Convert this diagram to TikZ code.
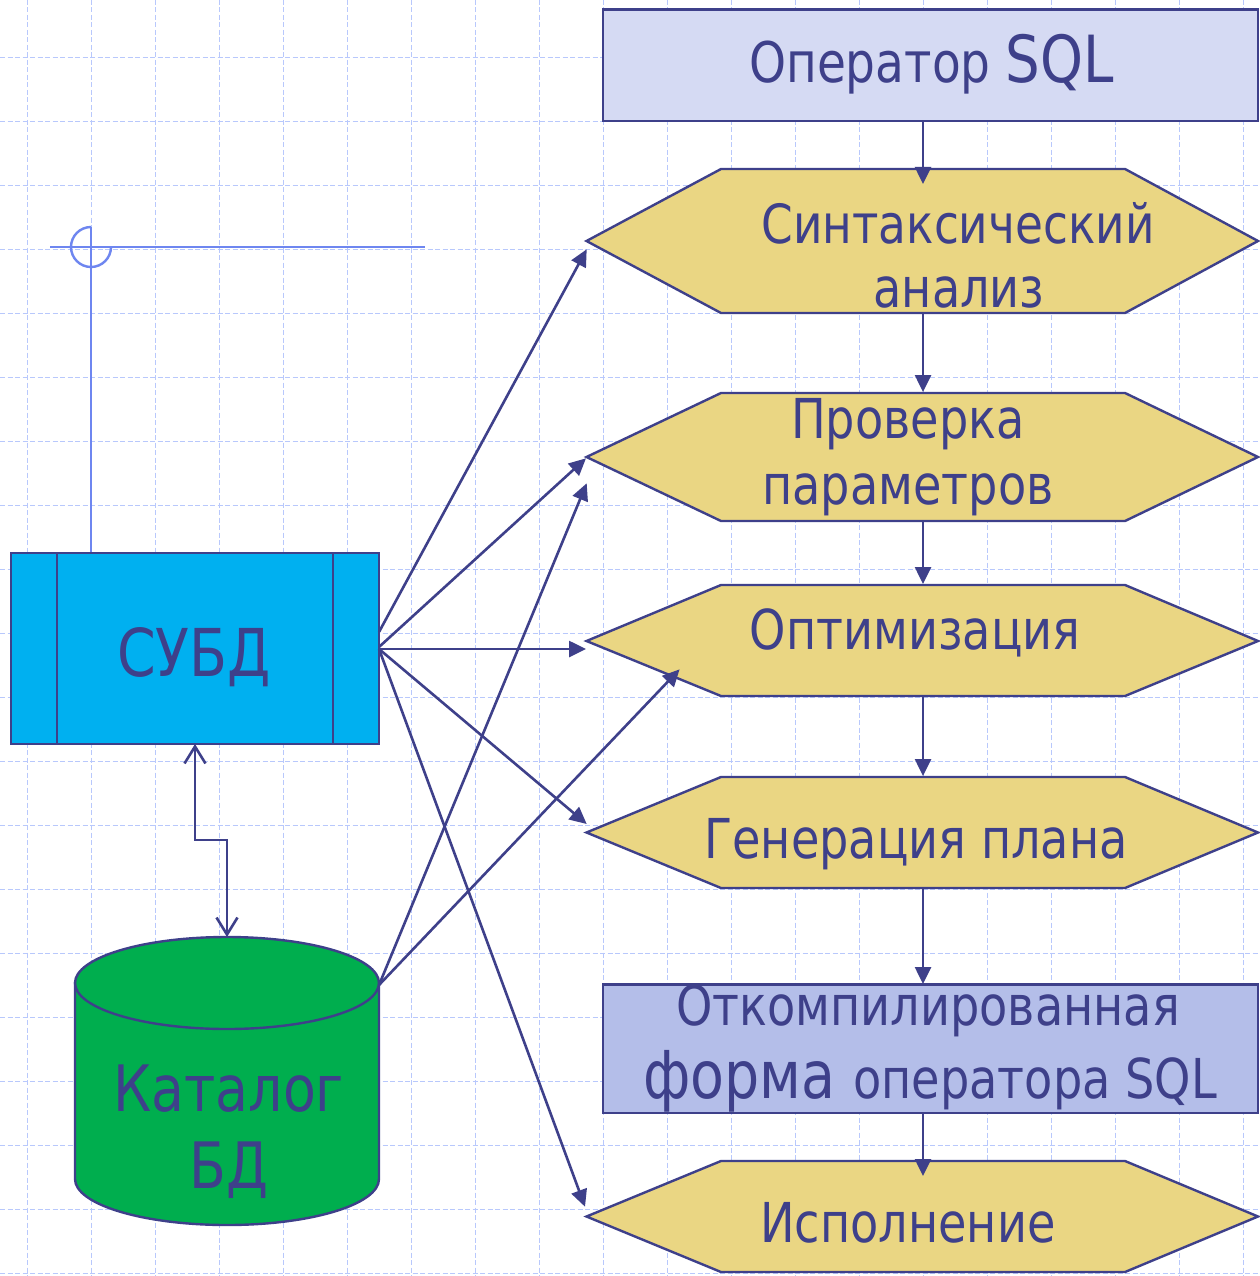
\documentclass[tikz,border=0pt]{standalone}
\usepackage{fontspec}
\setmainfont{DejaVu Sans}
\newfontfamily\tfont[FakeStretch=0.84]{DejaVu Sans}
\usetikzlibrary{arrows.meta}
\definecolor{navy}{RGB}{62,64,138}
\definecolor{hexfill}{RGB}{234,214,131}
\definecolor{topfill}{RGB}{213,218,243}
\definecolor{cmpfill}{RGB}{180,190,233}
\definecolor{subdfill}{RGB}{0,176,240}
\definecolor{catfill}{RGB}{0,174,78}
\definecolor{gridc}{RGB}{184,200,252}
\definecolor{symc}{RGB}{110,134,240}
\tikzset{
  gridline/.style={draw=gridc, line width=1.5pt, dash pattern=on 5pt off 2.5pt},
  hexbox/.style={fill=hexfill, draw=navy, line width=2.4pt, line join=miter},
  boxline/.style={draw=navy, line width=2.4pt},
  lbl/.style={text=navy, inner sep=0pt, anchor=base},
  fA/.style={font=\tfont\fontsize{55}{60}\selectfont},
  fB/.style={font=\tfont\fontsize{64}{70}\selectfont},
  link/.style={draw=navy, line width=2.6pt, -{Triangle[length=17pt,width=16pt]}},
  dlink/.style={draw=navy, line width=2.6pt, {Straight Barb[length=17pt,width=21pt]}-{Straight Barb[length=17pt,width=21pt]}},
  symline/.style={draw=symc, line width=2.4pt}
}
\begin{document}
\begin{tikzpicture}[x=1pt,y=-1pt]
\useasboundingbox (0,0) rectangle (1259,1276);
\fill[white] (0,0) rectangle (1259,1276);
% background grid
\foreach \k in {0,...,19}{
  \draw[gridline] ({27.5+64*\k},0) -- ({27.5+64*\k},1276);
  \draw[gridline] (0,{57.3+64*\k}) -- (1259,{57.3+64*\k});
}
% top-left symbol
\draw[symline] (50,247) -- (425,247);
\draw[symline] (91,227) -- (91,553);
\draw[symline] (91,227) arc[start angle=270, end angle=0, radius=20];

% SQL operator box
\draw[boxline, fill=topfill] (603,9.5) rectangle (1258,121);
\node[lbl, font=\tfont\fontsize{56}{60}\selectfont] (top) at (931.5,83) {Оператор {\fontsize{65}{70}\selectfont SQL}};

% hexagons
\draw[hexbox] (586.5,241) -- (721,169) -- (1125,169) -- (1258,241) -- (1125,313) -- (721,313) -- cycle;
\node[lbl, font=\tfont\fontsize{54}{60}\selectfont] (h1a) at (958,243) {Синтаксический};
\node[lbl, fA] (h1b) at (959,307) {анализ};

\draw[hexbox] (586.5,457) -- (721,393) -- (1125,393) -- (1258,457) -- (1125,521) -- (721,521) -- cycle;
\node[lbl, fA] (h2a) at (908,438.5) {Проверка};
\node[lbl, fA] (h2b) at (908,504) {параметров};

\draw[hexbox] (586.5,641) -- (721,585) -- (1125,585) -- (1258,641) -- (1125,696) -- (721,696) -- cycle;
\node[lbl, fA] (h3) at (915,649.5) {Оптимизация};

\draw[hexbox] (586.5,832.5) -- (721,777) -- (1125,777) -- (1258,832.5) -- (1125,888) -- (721,888) -- cycle;
\node[lbl, fA] (h4) at (916,858.5) {Генерация плана};

\draw[hexbox] (586.5,1216.5) -- (721,1161) -- (1125,1161) -- (1258,1216.5) -- (1125,1272) -- (721,1272) -- cycle;
\node[lbl, fA] (h5) at (908,1242) {Исполнение};

% compiled form box
\draw[boxline, fill=cmpfill] (603,984.5) rectangle (1258,1113);
\node[lbl, fA] (cmpa) at (928,1025) {Откомпилированная};
\node[lbl, font=\tfont\fontsize{66}{75}\selectfont] (cmpb) at (930,1098) {форма {\fontsize{55}{60}\selectfont оператора SQL}};

% SUBD
\draw[boxline, fill=subdfill] (11,553) rectangle (379,744);
\draw[boxline] (57,553) -- (57,744);
\draw[boxline] (333,553) -- (333,744);
\node[lbl, font=\tfont\fontsize{66}{70}\selectfont] (subd) at (194,676) {СУБД};

% catalog cylinder
\draw[boxline, fill=catfill] (75,983) -- (75,1179) arc[start angle=180, end angle=0, x radius=152, y radius=46] -- (379,983) -- cycle;
\draw[boxline, fill=catfill] (227,983) ellipse[x radius=152, y radius=46];
\node[lbl, fB] (cat1) at (228.7,1111.5) {Каталог};
\node[lbl, fB] (cat2) at (229,1188.5) {БД};

% connector coordinates
\coordinate (o0) at (923,121);
\coordinate (i1) at (923,184);
\coordinate (o1) at (923,313);
\coordinate (i2) at (923,392);
\coordinate (o2) at (923,521);
\coordinate (i3) at (923,584);
\coordinate (o3) at (923,696);
\coordinate (i4) at (923,776);
\coordinate (o4) at (923,888);
\coordinate (i5) at (923,984);
\coordinate (o5) at (923,1113);
\coordinate (i6) at (923,1176);

\coordinate (sA) at (379,632);
\coordinate (sB) at (379,647);
\coordinate (sC) at (379,649);
\coordinate (cR) at (379,985);
\coordinate (p1) at (586.7,249.3);
\coordinate (p2) at (586,458.3);
\coordinate (p2b) at (586.7,483.3);
\coordinate (p3) at (586,649);
\coordinate (p3b) at (679.6,669.3);
\coordinate (p4) at (586.7,824);
\coordinate (p5) at (585,1206.7);

\coordinate (sb) at (195,744);
\coordinate (cb) at (227,937);

% vertical flow
\draw[link] (o0) -- (i1);
\draw[link] (o1) -- (i2);
\draw[link] (o2) -- (i3);
\draw[link] (o3) -- (i4);
\draw[link] (o4) -- (i5);
\draw[link] (o5) -- (i6);

% from SUBD
\draw[link] (sA) -- (p1);
\draw[link] (sB) -- (p2);
\draw[link] (sC) -- (p3);
\draw[link] (sC) -- (p4);
\draw[link] (sC) -- (p5);
% from catalog
\draw[link] (cR) -- (p2b);
\draw[link] (cR) -- (p3b);
% SUBD <-> catalog
\draw[dlink] (sb) -- (195,840) -- (227,840) -- (cb);
\end{tikzpicture}
\end{document}
